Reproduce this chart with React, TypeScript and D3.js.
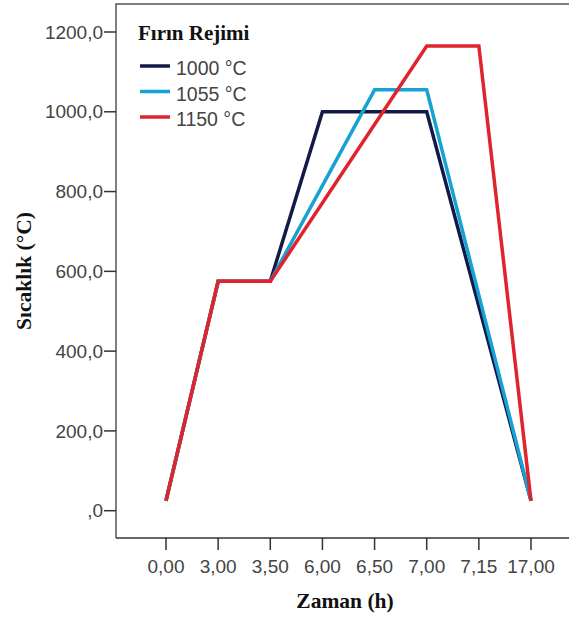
import React from "react";
import * as d3 from "d3";

const categories = ["0,00", "3,00", "3,50", "6,00", "6,50", "7,00", "7,15", "17,00"];
const series1000 = [25, 575, 575, 1000, 1000, 1000, null, 25];
const series1055 = [25, 575, 575, null, 1055, 1055, null, 25];
const series1150 = [25, 575, 575, null, null, 1165, 1165, 25];
const seriesNames = ["1000 °C", "1055 °C", "1150 °C"];
const seriesColors = ["#141a48", "#16a2d2", "#e0242e"];
const yTicks = [0, 200, 400, 600, 800, 1000, 1200];

const W = 569;
const H = 617;
const left = 116;
const top = 4;
const bottom = 538;

export default function App() {
  const allSeries = [series1000, series1055, series1150];
  const x = d3
    .scalePoint<string>()
    .domain(categories)
    .range([166, 531]);
  const y = d3.scaleLinear().domain([0, 1200]).range([510.7, 32]);

  const line = d3
    .line<[string, number]>()
    .x((d) => x(d[0]) as number)
    .y((d) => y(d[1]));

  const fmtY = (v: number) => (v === 0 ? ",0" : v.toFixed(1).replace(".", ","));

  return (
    <svg
      width={W}
      height={H}
      style={{ position: "absolute", left: 0, top: 0, background: "#fff" }}
    >
      {/* frame */}
      <path
        d={`M${left},${bottom} L${left},${top} L${W + 5},${top}`}
        fill="none"
        stroke="#555"
        strokeWidth={1.5}
      />
      <line x1={left} x2={W + 5} y1={bottom} y2={bottom} stroke="#333" strokeWidth={1.5} />

      {/* y ticks */}
      {yTicks.map((t) => (
        <g key={t}>
          <line x1={left - 12} x2={left} y1={y(t)} y2={y(t)} stroke="#333" strokeWidth={1.5} />
          <text
            x={left - 13}
            y={y(t)}
            dy="0.35em"
            textAnchor="end"
            fontFamily="Liberation Sans, Arial, sans-serif"
            fontSize={19}
            fill="#444"
          >
            {fmtY(t)}
          </text>
        </g>
      ))}

      {/* x ticks */}
      {categories.map((c) => (
        <g key={c}>
          <line
            x1={x(c)}
            x2={x(c)}
            y1={bottom}
            y2={bottom + 12}
            stroke="#333"
            strokeWidth={1.5}
          />
          <text
            x={x(c)}
            y={566}
            dy="0.35em"
            textAnchor="middle"
            fontFamily="Liberation Sans, Arial, sans-serif"
            fontSize={19}
            fill="#444"
          >
            {c}
          </text>
        </g>
      ))}

      {/* axis titles */}
      <text
        x={345}
        y={600}
        dy="0.35em"
        textAnchor="middle"
        fontFamily="Liberation Serif, Times New Roman, serif"
        fontWeight="bold"
        fontSize={21.5}
        fill="#111"
      >
        Zaman (h)
      </text>
      <text
        transform={`translate(23,271) rotate(-90)`}
        dy="0.35em"
        textAnchor="middle"
        fontFamily="Liberation Serif, Times New Roman, serif"
        fontWeight="bold"
        fontSize={21.5}
        fill="#111"
      >
        Sıcaklık (°C)
      </text>

      {/* lines */}
      {allSeries.map((s, i) => {
        const pts = categories
          .map((c, j) => [c, s[j]] as [string, number | null])
          .filter((p) => p[1] !== null) as [string, number][];
        return (
          <path
            key={i}
            d={line(pts) || ""}
            fill="none"
            stroke={seriesColors[i]}
            strokeWidth={3.5}
            strokeLinejoin="miter"
          />
        );
      })}

      {/* legend */}
      <text
        x={138}
        y={33}
        dy="0.35em"
        fontFamily="Liberation Serif, Times New Roman, serif"
        fontWeight="bold"
        fontSize={21}
        fill="#111"
      >
        Fırın Rejimi
      </text>
      {seriesNames.map((n, i) => (
        <g key={n}>
          <line
            x1={140}
            x2={170}
            y1={66 + i * 25.5}
            y2={66 + i * 25.5}
            stroke={seriesColors[i]}
            strokeWidth={3.5}
          />
          <text
            x={176}
            y={68.5 + i * 25.5}
            dy="0.35em"
            fontFamily="Liberation Sans, Arial, sans-serif"
            fontSize={19.5}
            fill="#444"
          >
            {n}
          </text>
        </g>
      ))}
    </svg>
  );
}
